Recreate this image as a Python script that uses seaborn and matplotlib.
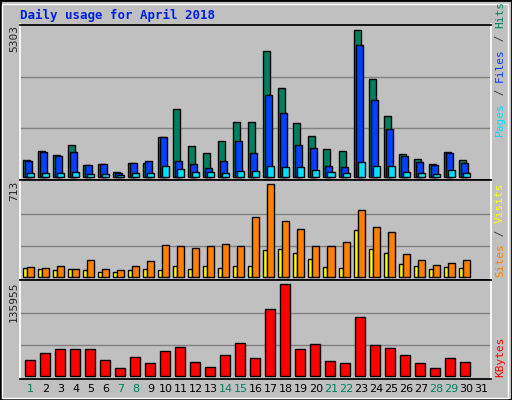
import matplotlib
matplotlib.use("Agg")
import matplotlib.pyplot as plt
import seaborn as sns
import pandas as pd
import numpy as np
from matplotlib.patches import Rectangle

sns.set_theme(style="white")
plt.rcParams['font.family'] = ['DejaVu Sans Mono', 'DejaVu Sans']

days = list(range(1, 32))
nan = np.nan
hits = [588, 912, 768, 1128, 408, 444, 156, 480, 480, 1416, 2460, 1092, 840, 1272, 1956,
        1956, 4547, 3215, 1920, 1452, 984, 912, 5303, 3539, 2172, 804, 624, 444, 876, 588, nan]
files = [552, 876, 732, 876, 408, 444, 120, 480, 552, 1416, 552, 444, 300, 552, 1272,
         840, 2964, 2316, 1128, 1020, 372, 336, 4764, 2784, 1704, 732, 516, 408, 840, 480, nan]
pages = [120, 120, 120, 156, 84, 84, 48, 120, 120, 372, 264, 156, 156, 120, 192,
         192, 372, 336, 336, 228, 156, 120, 516, 372, 372, 156, 120, 84, 228, 120, nan]
visits = [72, 64, 80, 56, 126, 56, 49, 80, 118, 241, 233, 218, 233, 249, 233,
          457, 711, 426, 364, 233, 233, 264, 510, 380, 341, 172, 126, 87, 103, 126, nan]
sites = [64, 56, 49, 56, 49, 33, 33, 49, 56, 49, 80, 56, 80, 64, 80,
         80, 203, 210, 180, 133, 72, 64, 357, 210, 180, 95, 80, 56, 72, 64, nan]
kbytes = [22800, 33200, 39200, 39200, 39200, 22800, 10900, 27300, 18400, 36200, 42200, 19800, 12400, 30300, 48100,
          25800, 98700, 135955, 39200, 46600, 21300, 18400, 86800, 45200, 40700, 30300, 18400, 10900, 25800, 19800, nan]
weekend = [1, 7, 8, 14, 15, 21, 22, 28, 29]

C_HITS, C_FILES, C_PAGES = "#008060", "#0040ff", "#00e0ff"
C_VIS, C_SITES, C_KB = "#ff8000", "#ffff00", "#ff0000"
BG = "#c0c0c0"

W, H = 512, 400
fig = plt.figure(figsize=(5.12, 4.0), dpi=100, facecolor=BG)
fig.patches.append(Rectangle((0, 0), 1, 1, transform=fig.transFigure, fill=False, ec="black", lw=2))
fig.patches.append(Rectangle((2/W, 2/H), 1-6/W, 1-6/H, transform=fig.transFigure, fill=False, ec="white", lw=1))

def axrect(top, bottom):
    return [20/W, 1-bottom/H, 471/W, (bottom-top)/H]

ax1 = fig.add_axes(axrect(24.5, 180))
ax2 = fig.add_axes(axrect(180, 280))
ax3 = fig.add_axes(axrect(280, 378.5))

px = 1/15.0
def bars(ax, offset, vals, color, width):
    df = pd.DataFrame({"x": [d + offset for d in days], "y": vals}).dropna()
    sns.barplot(data=df, x="x", y="y", native_scale=True, width=width, color=color,
                edgecolor="black", linewidth=1, saturation=1, ax=ax)

bars(ax1, -4*px, hits, C_HITS, 7*px)
bars(ax1, -2*px, files, C_FILES, 7*px)
bars(ax1, 0, pages, C_PAGES, 7*px)
bars(ax2, -5.5*px, sites, C_SITES, 4*px)
bars(ax2, 0, visits, C_VIS, 7*px)
bars(ax3, -1*px, kbytes, C_KB, 10*px)

for ax, mx, lo, hi in [(ax1, 5303, -119, 5491), (ax2, 713, -25, 744), (ax3, 135955, -4460, 142350)]:
    ax.set_facecolor(BG)
    ax.set_xlim(0.3, 31.65)
    ax.set_ylim(lo, hi)
    for f in (1/3, 0.68):
        ax.axhline(mx*f, color="#808080", lw=1, zorder=0)
    ax.set_xticks([]); ax.set_yticks([])
    ax.set_xlabel(""); ax.set_ylabel("")
    for s in ax.spines.values():
        s.set_visible(True)
    ax.spines["left"].set_color("white")
    ax.spines["bottom"].set_color("black")
    ax.spines["top"].set_color("black")
    ax.spines["right"].set_color("white")

fig.text(20/W, 1-15/H, "Daily usage for April 2018", color="#0020e0", fontsize=9, weight="bold", va="center")

fs = 8
fig.text(14/W, 1-25/H, "5303", rotation=90, fontsize=fs, ha="center", va="top")
fig.text(14/W, 1-181/H, "713", rotation=90, fontsize=fs, ha="center", va="top")
fig.text(14/W, 1-281/H, "135955", rotation=90, fontsize=fs, ha="center", va="top")

fig.canvas.draw()
renderer = fig.canvas.get_renderer()
def vlabel(parts, ybottom):
    y = H - ybottom
    for txt, col in parts:
        t = fig.text(500/W, y/H, txt, rotation=90, fontsize=fs, color=col, ha="center", va="bottom")
        bb = t.get_window_extent(renderer)
        y += bb.height
vlabel([("Pages", C_PAGES), (" / ", "#404040"), ("Files", C_FILES), (" / ", "#404040"), ("Hits", C_HITS)], 136)
vlabel([("Sites", C_VIS), (" / ", "#404040"), ("Visits", C_SITES)], 277)
vlabel([("KBytes", C_KB)], 377)

for d in days:
    x = (20 + (d - 0.3) / (31.65 - 0.3) * 471) / W
    fig.text(x, 1-389/H, str(d), fontsize=fs, ha="center", va="center",
             color=C_HITS if d in weekend else "black", family="DejaVu Sans")

fig.savefig("out.png", dpi=100, facecolor=BG)
